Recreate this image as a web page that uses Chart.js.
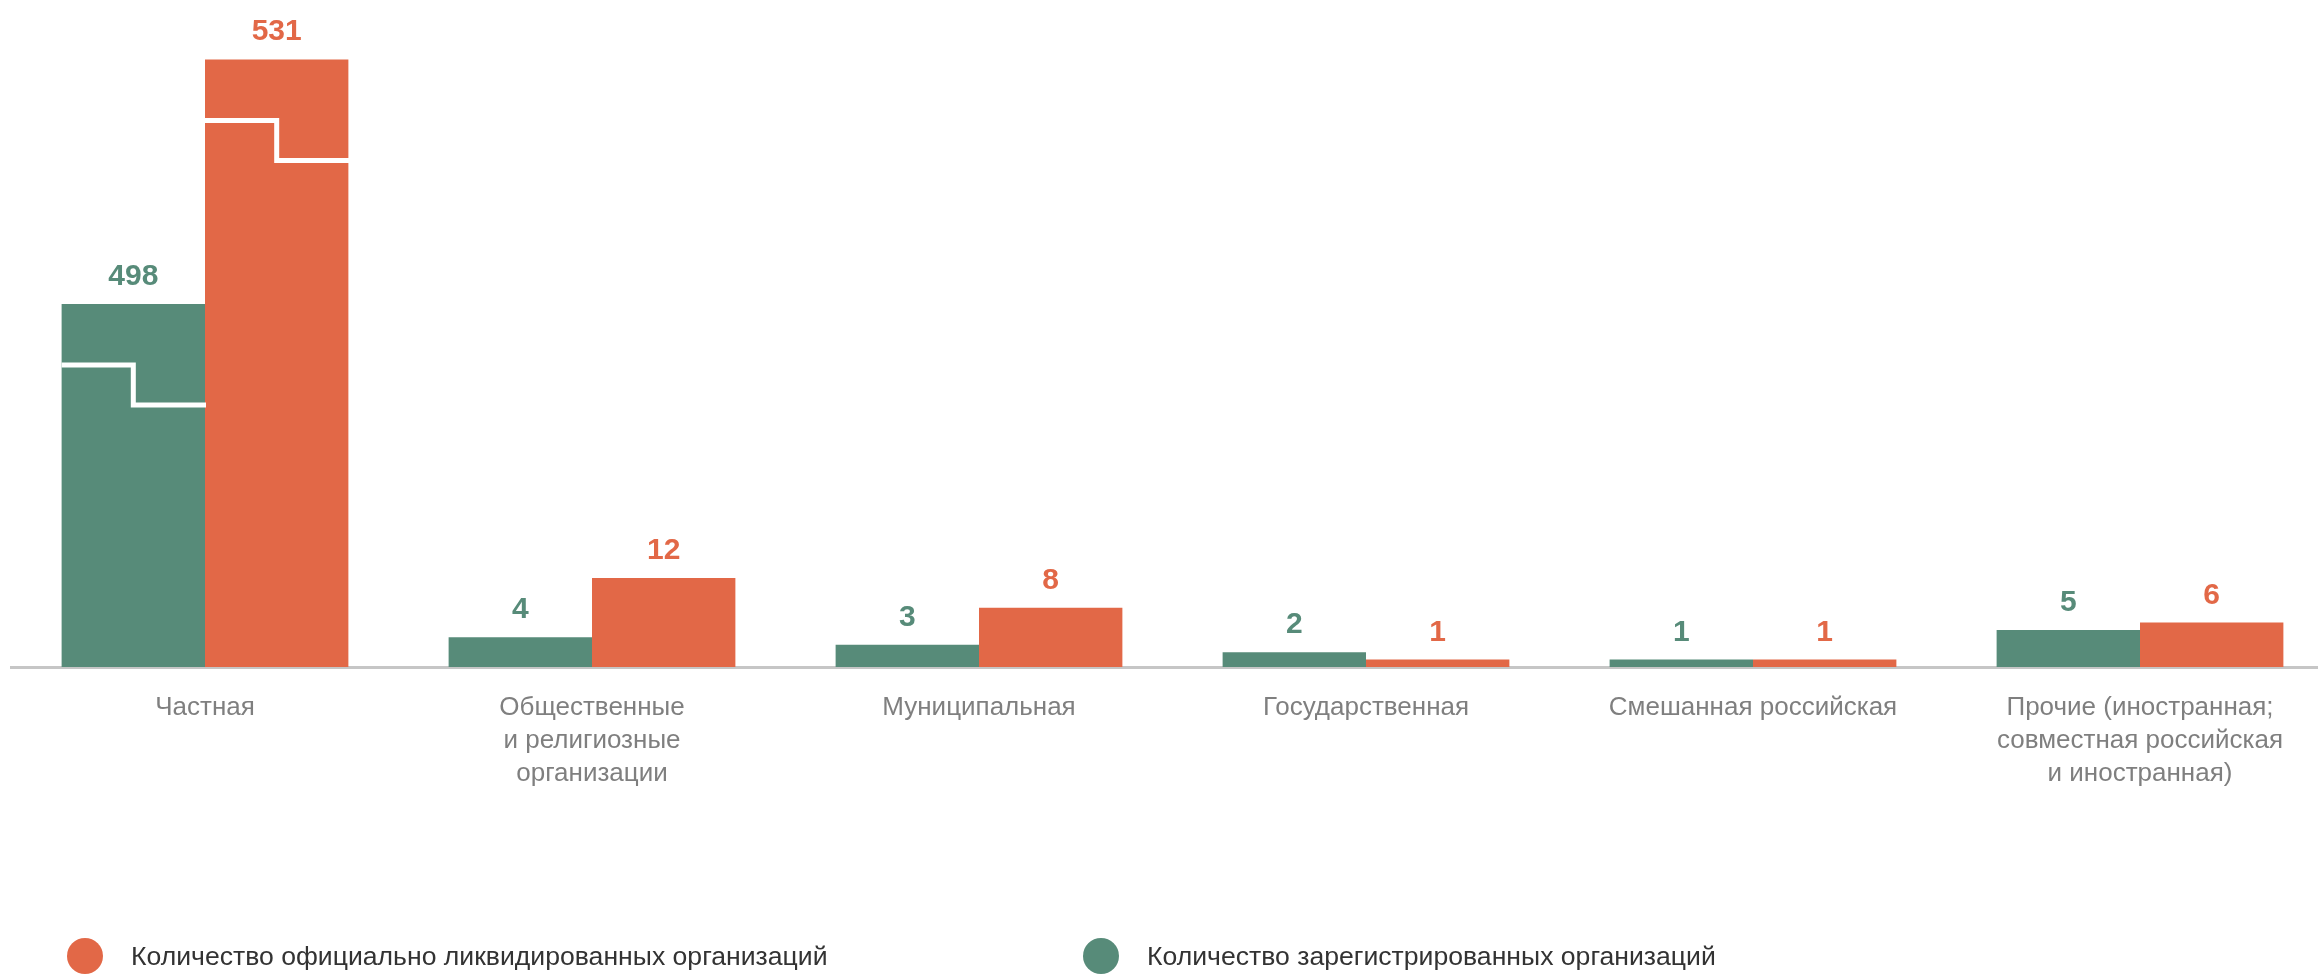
<!DOCTYPE html>
<html lang="ru">
<head>
<meta charset="utf-8">
<title>Организации по формам собственности</title>
<script src="https://cdn.jsdelivr.net/npm/chart.js@4/dist/chart.umd.min.js"></script>
<style>
  html, body { margin: 0; padding: 0; background: #fff; overflow: hidden; width: 2318px; height: 974px; }
  #wrap { position: relative; width: 2318px; height: 974px; overflow: hidden; }
  #orgChart { position: absolute; left: 0; top: 0; }
  .legend-item { position: absolute; top: 938px; height: 36px; display: flex; align-items: center;
                 font: 26.6px "Liberation Sans", Arial, sans-serif; color: #333; white-space: nowrap; }
  .legend-dot { width: 36px; height: 36px; border-radius: 50%; margin-right: 28px; }
</style>
</head>
<body>
<div id="wrap">
  <canvas id="orgChart" width="2340" height="974"></canvas>
</div>
<script>
const categories = [
    ['Частная'],
    ['Общественные', 'и религиозные', 'организации'],
    ['Муниципальная'],
    ['Государственная'],
    ['Смешанная российская'],
    ['Прочие (иностранная;', 'совместная российская', 'и иностранная)']
];
const registered = [498, 4, 3, 2, 1, 5];
const liquidated = [531, 12, 8, 1, 1, 6];

const registeredLabel = 'Количество зарегистрированных организаций';
const liquidatedLabel = 'Количество официально ликвидированных организаций';

const GREEN = '#578b79';
const ORANGE = '#e26847';

// axis break: values above BREAK_AT are drawn shifted down by BREAK_GAP
const BREAK_AT = 100;
const BREAK_GAP = 449;

class BrokenLinearScale extends Chart.LinearScale {
    getPixelForValue(value) {
        return super.getPixelForValue(value > BREAK_AT ? value - BREAK_GAP : value);
    }
}
BrokenLinearScale.id = 'brokenLinear';
Chart.register(BrokenLinearScale);

const valueLabels = {
    id: 'valueLabels',
    afterDatasetsDraw(chart) {
        const ctx = chart.ctx;
        ctx.save();
        ctx.font = 'bold 30px "Liberation Sans", Arial, sans-serif';
        ctx.textAlign = 'center';
        ctx.textBaseline = 'alphabetic';
        chart.data.datasets.forEach((ds, i) => {
            chart.getDatasetMeta(i).data.forEach((bar, j) => {
                ctx.fillStyle = ds.backgroundColor;
                ctx.fillText(String(ds.data[j]), bar.x, bar.y - 19);
            });
        });
        ctx.restore();
    }
};

const breakMarks = {
    id: 'breakMarks',
    afterDatasetsDraw(chart) {
        const ctx = chart.ctx;
        ctx.save();
        ctx.strokeStyle = '#ffffff';
        ctx.lineWidth = 5;
        ctx.lineJoin = 'miter';
        chart.data.datasets.forEach((ds, i) => {
            chart.getDatasetMeta(i).data.forEach((bar, j) => {
                if (ds.data[j] <= BREAK_AT) return;
                const half = bar.width / 2;
                const y1 = bar.y + 61;
                const y2 = bar.y + 101;
                ctx.beginPath();
                ctx.moveTo(bar.x - half, y1);
                ctx.lineTo(bar.x, y1);
                ctx.lineTo(bar.x, y2);
                ctx.lineTo(bar.x + half + 1, y2);
                ctx.stroke();
            });
        });
        ctx.restore();
    }
};

function buildLegend(datasets) {
    const wrap = document.getElementById('wrap');
    const positions = [67, 1083];
    datasets.forEach((ds, k) => {
        const item = document.createElement('div');
        item.className = 'legend-item';
        item.style.left = positions[k] + 'px';
        const dot = document.createElement('span');
        dot.className = 'legend-dot';
        dot.style.background = ds.backgroundColor;
        const text = document.createElement('span');
        text.textContent = ds.label;
        item.appendChild(dot);
        item.appendChild(text);
        wrap.appendChild(item);
    });
}

const ctx = document.getElementById('orgChart').getContext('2d');
const orgChart = new Chart(ctx, {
    type: 'bar',
    data: {
        labels: categories,
        datasets: [
            { label: registeredLabel, data: registered, backgroundColor: GREEN, borderWidth: 0 },
            { label: liquidatedLabel, data: liquidated, backgroundColor: ORANGE, borderWidth: 0 }
        ]
    },
    options: {
        responsive: false,
        animation: false,
        layout: { padding: { left: 11.5, right: 6.5, top: 15, bottom: 160 } },
        datasets: {
            bar: { categoryPercentage: 0.741, barPercentage: 1.0 }
        },
        plugins: {
            legend: { display: false },
            tooltip: { enabled: false }
        },
        scales: {
            x: {
                grid: { display: false, drawTicks: false },
                border: { display: true, color: '#c6c6c6', width: 3 },
                ticks: {
                    color: '#7f7f7f',
                    padding: 24,
                    maxRotation: 0,
                    autoSkip: false,
                    font: { family: '"Liberation Sans", Arial, sans-serif', size: 26, lineHeight: 33 / 26 }
                }
            },
            y: {
                type: 'brokenLinear',
                display: false,
                min: 0,
                max: 88
            }
        }
    },
    plugins: [valueLabels, breakMarks]
});

buildLegend([orgChart.data.datasets[1], orgChart.data.datasets[0]]);
</script>
</body>
</html>
